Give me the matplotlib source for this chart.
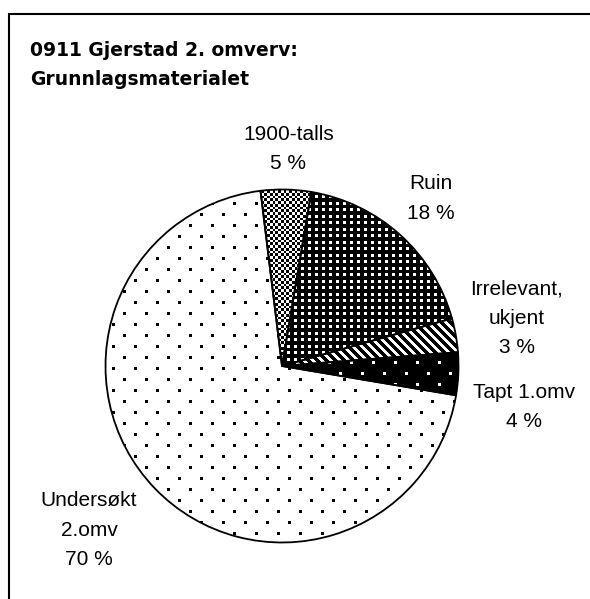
import numpy as np
import matplotlib
matplotlib.use("Agg")
import matplotlib.pyplot as plt

# ---- data ----
categories = ["1900-talls", "Ruin", "Irrelevant,\nukjent", "Tapt 1.omv", "Undersøkt\n2.omv"]
shares = [4.6, 18.0, 3.1, 3.9, 70.4]
title_lines = ["0911 Gjerstad 2. omverv:", "Grunnlagsmaterialet"]

W, H = 590, 599
fig = plt.figure(figsize=(W / 100, H / 100), dpi=100)
ax = fig.add_axes([0, 0, 1, 1])

cx, cy, R = 282, H - 366, 176.5
wedges, _ = ax.pie(shares, startangle=97, counterclock=False,
                   center=(cx, cy), radius=R,
                   wedgeprops=dict(facecolor="none", edgecolor="black",
                                   linewidth=1.3, zorder=3))
ax.set_xlim(0, W)
ax.set_ylim(0, H)
ax.set_aspect("auto")
ax.axis("off")

# ---- texture patterns (pixel grid) ----
rr, cc = np.mgrid[0:H, 0:W].astype(float)


def dots(ox, oy, s=2.75):
    bx = np.floor((cc - ox) / s).astype(int) % 8
    by = np.floor((rr - oy) / s).astype(int) % 8
    return ((bx == 0) & (by == 0)) | ((bx == 4) & (by == 4))


pat_und = np.where(dots(156, 301), 0.0, 1.0)
pat_tapt = np.where(dots(394, 361), 1.0, 0.0)
bxs = np.floor(cc / 2.75).astype(int)
bys = np.floor(rr / 2.75).astype(int)
pat_1900 = ((bxs + bys) % 2).astype(float)
pat_ruin = np.where(((cc % 7.0) < 3) & ((rr % 6.5) < 3), 1.0, 0.0)
pat_irr = np.where(((cc - rr) % 9.0) < 4.2, 0.0, 1.0)

patterns = [pat_1900, pat_ruin, pat_irr, pat_tapt, pat_und]
for w, p in zip(wedges, patterns):
    im = ax.imshow(p, cmap="gray", vmin=0, vmax=1, extent=(0, W, 0, H),
                   origin="upper", interpolation="nearest", zorder=2)
    im.set_clip_path(w)

ax.set_xlim(0, W)
ax.set_ylim(0, H)
ax.set_aspect("auto")

# ---- labels ----
pcts = [f"{int(round(v / sum(shares) * 100))} %" for v in shares]
label_pos = [(288.5, 140), (431.3, 189.3), (516.6, 294.3), (523.7, 397.8), (89, 506.2)]
step = 29.3
lab_font = dict(family=["Liberation Sans", "DejaVu Sans"], size=15, color="black")
for cat, pct, (lx, ly) in zip(categories, pcts, label_pos):
    lines = cat.split("\n") + [pct]
    for i, t in enumerate(lines):
        ax.text(lx, H - (ly + i * step), t, ha="center", va="baseline",
                zorder=5, **lab_font)

# ---- title ----
for i, t in enumerate(title_lines):
    ax.text(30, H - (56 + i * 29), t, ha="left", va="baseline",
            family="DejaVu Sans", weight="bold", size=13.5, color="black",
            zorder=5)

# ---- outer frame ----
ax.plot([8.5, 8.5, W + 5], [-5, H - 13.5, H - 13.5], color="black",
        lw=1.5, solid_joinstyle="miter", clip_on=False, zorder=6)

fig.savefig("out.png", dpi=100)
